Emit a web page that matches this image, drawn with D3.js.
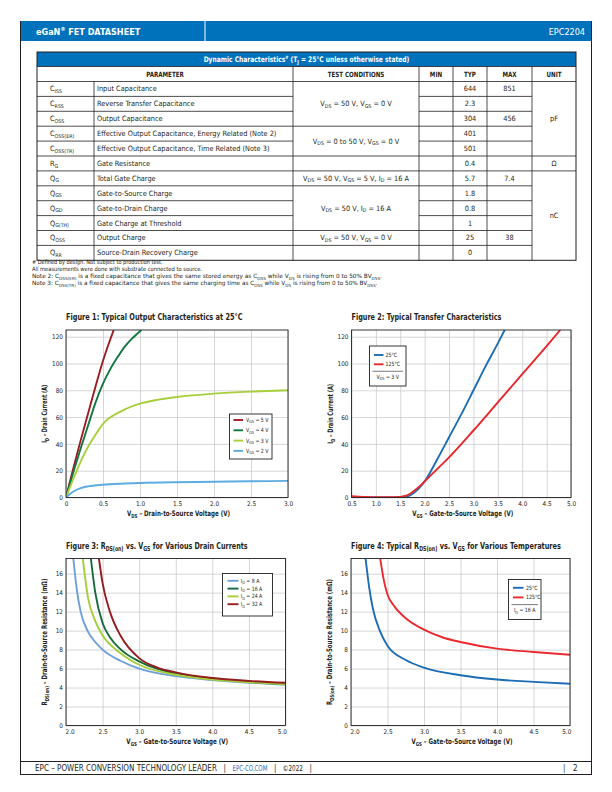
<!DOCTYPE html>
<html>
<head>
<meta charset="utf-8">
<script src="https://cdn.jsdelivr.net/npm/d3@7"></script>
<style>
  body { margin: 0; background: #fff; }
  svg { display: block; }
</style>
</head>
<body>
<svg id="page" width="612" height="792"></svg>
<script>
// ---- table data ----
const symbols = ["C_{ISS}", "C_{RSS}", "C_{OSS}", "C_{OSS(ER)}", "C_{OSS(TR)}", "R_{G}",
  "Q_{G}", "Q_{GS}", "Q_{GD}", "Q_{G(TH)}", "Q_{OSS}", "Q_{RR}"]
const params = ["Input Capacitance", "Reverse Transfer Capacitance", "Output Capacitance",
  "Effective Output Capacitance, Energy Related (Note 2)", "Effective Output Capacitance, Time Related (Note 3)",
  "Gate Resistance", "Total Gate Charge", "Gate-to-Source Charge", "Gate-to-Drain Charge",
  "Gate Charge at Threshold", "Output Charge", "Source-Drain Recovery Charge"]
const minVals = ["", "", "", "", "", "", "", "", "", "", "", ""]
const typVals = ["644", "2.3", "304", "401", "501", "0.4", "5.7", "1.8", "0.8", "1", "25", "0"]
const maxVals = ["851", "", "456", "", "", "", "7.4", "", "", "", "38", ""]
const conditions = [
  { from: 0, to: 2, text: "V_{DS} = 50 V, V_{GS} = 0 V" },
  { from: 3, to: 4, text: "V_{DS} = 0 to 50 V, V_{GS} = 0 V" },
  { from: 5, to: 5, text: "" },
  { from: 6, to: 6, text: "V_{DS} = 50 V, V_{GS} = 5 V, I_{D} = 16 A" },
  { from: 7, to: 9, text: "V_{DS} = 50 V, I_{D} = 16 A" },
  { from: 10, to: 10, text: "V_{DS} = 50 V, V_{GS} = 0 V" },
  { from: 11, to: 11, text: "" }
]
const units = [
  { from: 0, to: 4, text: "pF" },
  { from: 5, to: 5, text: "Ω" },
  { from: 6, to: 11, text: "nC" }
]
const headers = ["PARAMETER", "TEST CONDITIONS", "MIN", "TYP", "MAX", "UNIT"]
const notes = [
  "# Defined by design. Not subject to production test.",
  "All measurements were done with substrate connected to source.",
  "Note 2: C_{OSS(ER)} is a fixed capacitance that gives the same stored energy as C_{OSS} while V_{DS} is rising from 0 to 50% BV_{DSS}.",
  "Note 3: C_{OSS(TR)} is a fixed capacitance that gives the same charging time as C_{OSS} while V_{DS} is rising from 0 to 50% BV_{DSS}."
]
const footerParts = ["EPC – POWER CONVERSION TECHNOLOGY LEADER", "|", "EPC-CO.COM", "|", "©2022", "|"]

// ---- figure 1: output characteristics ----
const vds5 = [0, 0.1, 0.2, 0.3, 0.4, 0.5, 0.645]
const id5 = [0, 22, 43, 63, 83, 102, 125]
const vds4 = [0, 0.1, 0.2, 0.3, 0.4, 0.5, 0.6, 0.7, 0.8, 0.9, 1.02]
const id4 = [0, 19, 37, 54, 71, 85, 96, 105, 113, 119, 125]
const vds3 = [0, 0.1, 0.2, 0.3, 0.4, 0.5, 0.75, 1.0, 1.25, 1.5, 2.0, 2.5, 3.0]
const id3 = [0, 14, 27, 38, 47, 55, 64.5, 70, 73, 75, 77.5, 79, 80]
const vds2 = [0, 0.05, 0.1, 0.2, 0.3, 0.5, 0.75, 1.0, 1.5, 2.0, 2.5, 3.0]
const id2 = [0, 2.5, 4.5, 7, 8.3, 9.5, 10.3, 10.8, 11.4, 11.8, 12.1, 12.4]

// ---- figure 2: transfer characteristics ----
const vgsT25 = [0.5, 1.0, 1.5, 1.6, 1.7, 1.8, 1.9, 2.0, 2.25, 2.5, 2.75, 3.0, 3.25, 3.5, 3.64]
const idT25 = [0, 0, 0, 0.3, 1.5, 4, 7.5, 12, 28, 45, 62, 80, 98, 115, 125]
const vgsT125 = [0.5, 0.75, 1.0, 1.25, 1.5, 1.6, 1.7, 1.8, 1.9, 2.0, 2.25, 2.5, 3.0, 3.5, 4.0, 4.5, 4.78]
const idT125 = [1, 0.5, 0.2, 0.2, 0.5, 1.2, 2.8, 5.5, 8.5, 12, 21, 30, 50, 71, 92, 113, 125]

// ---- figure 3: RDS(on) vs VGS, drain currents ----
const vgs8 = [2.1, 2.15, 2.2, 2.3, 2.4, 2.5, 2.75, 3.0, 3.5, 4.0, 4.5, 5.0]
const r8 = [17.6, 14.2, 12.0, 9.9, 8.8, 8.0, 6.8, 6.0, 5.2, 4.8, 4.5, 4.3]
const vgs16 = [2.34, 2.4, 2.5, 2.6, 2.75, 3.0, 3.5, 4.0, 4.5, 5.0]
const r16 = [17.6, 14.0, 10.8, 9.3, 8.0, 6.75, 5.45, 4.95, 4.6, 4.4]
const vgs24 = [2.23, 2.3, 2.4, 2.5, 2.75, 3.0, 3.5, 4.0, 4.5, 5.0]
const r24 = [17.6, 13.5, 11.0, 9.5, 7.6, 6.4, 5.35, 4.85, 4.55, 4.35]
const vgs32 = [2.45, 2.5, 2.6, 2.75, 3.0, 3.25, 3.5, 4.0, 4.5, 5.0]
const r32 = [17.6, 15.0, 12.0, 9.4, 7.1, 6.1, 5.6, 5.0, 4.7, 4.5]

// ---- figure 4: RDS(on) vs VGS, temperatures ----
const vgsR25 = [2.2, 2.25, 2.3, 2.4, 2.5, 2.75, 3.0, 3.5, 4.0, 4.5, 5.0]
const rR25 = [17.6, 14.5, 12.3, 9.9, 8.4, 6.9, 6.1, 5.3, 4.85, 4.6, 4.4]
const vgsR125 = [2.4, 2.45, 2.5, 2.6, 2.75, 3.0, 3.25, 3.5, 4.0, 4.5, 5.0]
const rR125 = [17.6, 15.3, 13.8, 12.5, 11.3, 10.1, 9.3, 8.8, 8.1, 7.75, 7.45]

// ---- tick values ----
const ticksVds = [0, 0.5, 1.0, 1.5, 2.0, 2.5, 3.0]
const ticksVgsT = [0.5, 1.0, 1.5, 2.0, 2.5, 3.0, 3.5, 4.0, 4.5, 5.0]
const ticksVgsR = [2.0, 2.5, 3.0, 3.5, 4.0, 4.5, 5.0]
const ticksId = [0, 20, 40, 60, 80, 100, 120]
const ticksR = [0, 2, 4, 6, 8, 10, 12, 14, 16]

const FONT = "'Liberation Sans Narrow', 'DejaVu Sans Condensed', sans-serif"
const BLUE = "#0072bc"
const INK = "#231f20"
const svg = d3.select("#page").attr("font-family", FONT)

// Write text with _{sub} and ^{sup} parts as tspans
function rich(t, str, fs) {
  const parts = str.split(/(_\{[^}]*\}|\^\{[^}]*\})/).filter(s => s !== "")
  let off = 0
  parts.forEach(p => {
    let target = 0, txt = p, size = null
    if (p.startsWith("_{")) { target = 0.22 * fs; txt = p.slice(2, -1); size = fs * 0.72 }
    else if (p.startsWith("^{")) { target = -0.38 * fs; txt = p.slice(2, -1); size = fs * 0.62 }
    const ts = t.append("tspan").attr("dy", target - off).text(txt)
    if (size) ts.attr("font-size", size)
    off = target
  })
  return t
}

// opts: fill, bold, anchor, rotate, sx (horizontal squeeze), fit (target width)
function label(parent, x, y, str, fs, opts = {}) {
  const t = parent.append("text")
    .attr("x", x).attr("y", y)
    .attr("font-size", fs)
    .attr("fill", opts.fill || INK)
    .attr("font-weight", opts.bold ? "bold" : null)
    .attr("text-anchor", opts.anchor || "start")
  rich(t, str, fs)
  let sx = opts.sx || 1
  if (opts.fit && str) {
    const w = t.node().getComputedTextLength()
    if (w > 0) sx = opts.fit / w
  }
  const rot = opts.rotate ? " rotate(-90)" : ""
  if (sx !== 1 || opts.rotate) {
    t.attr("transform", `translate(${x},${y})${rot} scale(${sx},1) translate(${-x},${-y})`)
  }
  return t
}

// ---- page frame & header ----
svg.append("rect").attr("x", 20).attr("y", 21).attr("width", 572).attr("height", 20).attr("fill", BLUE)
svg.append("line").attr("x1", 205).attr("x2", 205).attr("y1", 21).attr("y2", 41)
  .attr("stroke", "#fff").attr("stroke-width", 1)
label(svg, 36, 34.5, "eGaN^{®} FET DATASHEET", 9, { bold: true, fill: "#fff" })
label(svg, 585, 34.5, "EPC2204", 9, { fill: "#fff", anchor: "end" })

const frame = svg.append("g").attr("stroke", INK).attr("stroke-width", 1)
frame.append("line").attr("x1", 20.5).attr("x2", 20.5).attr("y1", 21).attr("y2", 775)
frame.append("line").attr("x1", 591.5).attr("x2", 591.5).attr("y1", 21).attr("y2", 775)
frame.append("line").attr("x1", 20).attr("x2", 592).attr("y1", 761.5).attr("y2", 761.5)
frame.append("line").attr("x1", 20).attr("x2", 592).attr("y1", 774.5).attr("y2", 774.5)

// ---- footer: parts laid out one after another ----
const foot = svg.append("g")
const footFit = [182, 0, 35, 0, 20, 0]
let fx = 35
footerParts.forEach((p, i) => {
  const t = label(foot, fx, 771, p, 8, { fill: i === 2 ? "#2e6db4" : INK, fit: footFit[i] || null })
  fx += (footFit[i] || t.node().getComputedTextLength()) + 6.5
})
label(foot, 563, 771, "|", 8)
label(foot, 573, 771, "2", 8)

// ---- dynamic characteristics table ----
const colX = [37, 94, 293, 419, 453, 487, 532, 576]
const tTop = 52, titleH = 14.5, headH = 15, rowH = 14.9
const headY = tTop + titleH
const rowsY = headY + headH
const rowY = d3.scaleLinear().domain([0, symbols.length]).range([rowsY, rowsY + rowH * symbols.length])
const tBottom = rowY(symbols.length)
const tbl = svg.append("g")

tbl.append("rect").attr("x", colX[0]).attr("y", tTop).attr("width", colX[7] - colX[0]).attr("height", titleH).attr("fill", BLUE)
label(tbl, (colX[0] + colX[7]) / 2, tTop + 10, "Dynamic Characteristics^{#} (T_{J} = 25°C unless otherwise stated)", 7.6,
  { bold: true, fill: "#fff", anchor: "middle", fit: 206 })

const tl = tbl.append("g").attr("stroke", INK).attr("stroke-width", 0.8)
tl.append("rect").attr("x", colX[0]).attr("y", tTop).attr("width", colX[7] - colX[0]).attr("height", tBottom - tTop)
  .attr("fill", "none").attr("stroke-width", 1)
tl.append("line").attr("x1", colX[0]).attr("x2", colX[7]).attr("y1", headY).attr("y2", headY)
tl.append("line").attr("x1", colX[0]).attr("x2", colX[7]).attr("y1", rowsY).attr("y2", rowsY)
colX.slice(1, 7).forEach((cx, i) => {
  tl.append("line").attr("x1", cx).attr("x2", cx).attr("y1", i === 0 ? rowsY : headY).attr("y2", tBottom)
})
const condBreaks = new Set(conditions.map(c => c.from))
const unitBreaks = new Set(units.map(c => c.from))
d3.range(1, symbols.length).forEach(i => {
  const yy = rowY(i)
  tl.append("line").attr("x1", colX[0]).attr("x2", colX[2]).attr("y1", yy).attr("y2", yy)
  tl.append("line").attr("x1", colX[3]).attr("x2", colX[6]).attr("y1", yy).attr("y2", yy)
  if (condBreaks.has(i)) tl.append("line").attr("x1", colX[2]).attr("x2", colX[3]).attr("y1", yy).attr("y2", yy)
  if (unitBreaks.has(i)) tl.append("line").attr("x1", colX[6]).attr("x2", colX[7]).attr("y1", yy).attr("y2", yy)
})

const headCenters = [(colX[0] + colX[2]) / 2, (colX[2] + colX[3]) / 2, (colX[3] + colX[4]) / 2,
  (colX[4] + colX[5]) / 2, (colX[5] + colX[6]) / 2, (colX[6] + colX[7]) / 2]
headers.forEach((h, i) => label(tbl, headCenters[i], headY + 10.3, h, 7.2, { bold: true, anchor: "middle", sx: 0.86 }))

const FS = 7.3
const midY = i => (rowY(i) + rowY(i + 1)) / 2 + 2.5
symbols.forEach((s, i) => {
  label(tbl, 50, midY(i), s, FS)
  label(tbl, 97, midY(i), params[i], FS)
  label(tbl, headCenters[2], midY(i), minVals[i], FS, { anchor: "middle" })
  label(tbl, headCenters[3], midY(i), typVals[i], FS, { anchor: "middle" })
  label(tbl, headCenters[4], midY(i), maxVals[i], FS, { anchor: "middle" })
})
conditions.forEach(c => {
  const yy = (rowY(c.from) + rowY(c.to + 1)) / 2 + 2.5
  label(tbl, headCenters[1], yy, c.text, FS, { anchor: "middle" })
})
units.forEach(c => {
  const yy = (rowY(c.from) + rowY(c.to + 1)) / 2 + 2.5
  label(tbl, headCenters[5], yy, c.text, FS, { anchor: "middle" })
})

const noteFit = [131, 170, 350, 346]
notes.forEach((n, i) => label(svg, 32, 264.5 + i * 7, n, 5.8, { fit: noteFit[i] }))

// ---- chart drawing ----
let clipId = 0
function drawChart(cfg) {
  const g = svg.append("g")
  const x = d3.scaleLinear().domain(cfg.xDomain).range([cfg.left, cfg.right])
  const y = d3.scaleLinear().domain(cfg.yDomain).range([cfg.bottom, cfg.top])
  const h = cfg.bottom - cfg.top, w = cfg.right - cfg.left
  const fmt = d => (d === 0 ? "0" : d3.format(".1f")(d))

  const xa = g.append("g").attr("transform", `translate(0,${cfg.bottom})`)
    .call(d3.axisBottom(x).tickValues(cfg.xTicks).tickSize(-h).tickPadding(2.5).tickFormat(fmt))
  const ya = g.append("g").attr("transform", `translate(${cfg.left},0)`)
    .call(d3.axisLeft(y).tickValues(cfg.yTicks).tickSize(-w).tickPadding(3).tickFormat(d3.format("d")))
  ;[xa, ya].forEach(a => {
    a.select(".domain").remove()
    a.selectAll(".tick line").attr("stroke", "#c4c4c4").attr("stroke-width", 0.7)
    a.selectAll(".tick text").attr("font-family", FONT).attr("font-size", 6.4).attr("fill", INK)
  })
  ya.selectAll(".tick text").attr("dy", "0.33em")
  xa.selectAll(".tick text").attr("dy", "0.95em")
  // end labels sit inside the plot edges on some figures
  const xt = xa.selectAll(".tick text").nodes()
  if (cfg.edgeLabels) {
    d3.select(xt[0]).attr("text-anchor", "start").attr("x", -1)
    d3.select(xt[xt.length - 1]).attr("text-anchor", "end").attr("x", 1)
  }

  const cid = "clip" + (clipId++)
  g.append("clipPath").attr("id", cid).append("rect")
    .attr("x", cfg.left).attr("y", cfg.top).attr("width", w).attr("height", h)
  const line = d3.line().x(d => x(d[0])).y(d => y(d[1])).curve(d3.curveMonotoneX)
  const lines = g.append("g").attr("clip-path", `url(#${cid})`)
  cfg.series.forEach(s => {
    lines.append("path").datum(d3.zip(s.x, s.y))
      .attr("d", line).attr("fill", "none").attr("stroke", s.color)
      .attr("stroke-width", 1.9).attr("stroke-linejoin", "round")
  })

  g.append("rect").attr("x", cfg.left).attr("y", cfg.top).attr("width", w).attr("height", h)
    .attr("fill", "none").attr("stroke", INK).attr("stroke-width", 0.9)

  // titles
  label(g, cfg.left, cfg.top - 9.5, cfg.title, 9.6, { bold: true, fit: cfg.titleW })
  label(g, (cfg.left + cfg.right) / 2 + 1.5, cfg.bottom + 18.5, cfg.xTitle, 7.6, { bold: true, anchor: "middle", fit: cfg.xTitleW })
  label(g, cfg.left - 18.5, (cfg.top + cfg.bottom) / 2, cfg.yTitle, 7.6, { bold: true, anchor: "middle", rotate: true, fit: cfg.yTitleW })

  // legend
  const L = cfg.legend
  const lg = g.append("g")
  lg.append("rect").attr("x", L.x).attr("y", L.y).attr("width", L.w).attr("height", L.h)
    .attr("fill", "#fff").attr("stroke", INK).attr("stroke-width", 0.9)
  cfg.series.forEach((s, i) => {
    const yy = L.y + L.first + i * L.step
    lg.append("line").attr("x1", L.x + L.sw0).attr("x2", L.x + L.sw1).attr("y1", yy).attr("y2", yy)
      .attr("stroke", s.color).attr("stroke-width", 1.9)
    label(lg, L.x + L.tx, yy + 2.1, s.label, 5.8, { sx: 0.9 })
  })
  if (L.note) {
    const ly = L.y + L.first + cfg.series.length * L.step - L.step * 0.25
    lg.append("line").attr("x1", L.x + 3).attr("x2", L.x + L.w - 3).attr("y1", ly).attr("y2", ly)
      .attr("stroke", INK).attr("stroke-width", 0.6)
    label(lg, L.x + L.w / 2, ly + 7.8, L.note, 5.8, { anchor: "middle", sx: 0.9 })
  }
}

drawChart({
  left: 66, right: 288, top: 330, bottom: 497.5,
  xDomain: [0, 3], yDomain: [0, 125], xTicks: ticksVds, yTicks: ticksId,
  title: "Figure 1: Typical Output Characteristics at 25°C", titleW: 177,
  xTitle: "V_{DS} – Drain-to-Source Voltage (V)", xTitleW: 103,
  yTitle: "I_{D} – Drain Current (A)", yTitleW: 58,
  series: [
    { label: "V_{GS} = 5 V", color: "#9d1c23", x: vds5, y: id5 },
    { label: "V_{GS} = 4 V", color: "#11763f", x: vds4, y: id4 },
    { label: "V_{GS} = 3 V", color: "#a8cf3b", x: vds3, y: id3 },
    { label: "V_{GS} = 2 V", color: "#5cabe1", x: vds2, y: id2 }
  ],
  legend: { x: 229.5, y: 414, w: 42.5, h: 45, first: 6, step: 10.3, sw0: 4, sw1: 13.5, tx: 16.5 }
})

drawChart({
  left: 351.5, right: 571, top: 330, bottom: 497.5,
  xDomain: [0.5, 5], yDomain: [0, 125], xTicks: ticksVgsT, yTicks: ticksId,
  title: "Figure 2: Typical Transfer Characteristics", titleW: 150,
  xTitle: "V_{GS} – Gate-to-Source Voltage (V)", xTitleW: 101,
  yTitle: "I_{D} – Drain Current (A)", yTitleW: 60,
  series: [
    { label: "25°C", color: "#1c6db4", x: vgsT25, y: idT25 },
    { label: "125°C", color: "#e8262c", x: vgsT125, y: idT125 }
  ],
  legend: { x: 369.5, y: 346, w: 36.5, h: 40, first: 9, step: 9.3, sw0: 4.5, sw1: 14, tx: 16, note: "V_{DS} = 3 V" }
})

drawChart({
  left: 66, right: 285.5, top: 558.5, bottom: 725.5, edgeLabels: true,
  xDomain: [2, 5], yDomain: [0, 17.6], xTicks: ticksVgsR, yTicks: ticksR,
  title: "Figure 3: R_{DS(on)} vs. V_{GS} for Various Drain Currents", titleW: 182,
  xTitle: "V_{GS} – Gate-to-Source Voltage (V)", xTitleW: 102,
  yTitle: "R_{DS(on)} – Drain-to-Source Resistance (mΩ)", yTitleW: 127,
  series: [
    { label: "I_{D} = 8 A", color: "#6d9fd9", x: vgs8, y: r8 },
    { label: "I_{D} = 16 A", color: "#166a3b", x: vgs16, y: r16 },
    { label: "I_{D} = 24 A", color: "#a7cd3a", x: vgs24, y: r24 },
    { label: "I_{D} = 32 A", color: "#951c21", x: vgs32, y: r32 }
  ],
  legend: { x: 222.5, y: 573.5, w: 50, h: 42.5, first: 7.3, step: 7.8, sw0: 5, sw1: 16, tx: 18.3 }
})

drawChart({
  left: 351, right: 570, top: 558.5, bottom: 725.5, edgeLabels: true,
  xDomain: [2, 5], yDomain: [0, 17.6], xTicks: ticksVgsR, yTicks: ticksR,
  title: "Figure 4: Typical R_{DS(on)} vs. V_{GS} for Various Temperatures", titleW: 210,
  xTitle: "V_{GS} – Gate-to-Source Voltage (V)", xTitleW: 101,
  yTitle: "R_{DS(on)} – Drain-to-Source Resistance (mΩ)", yTitleW: 126,
  series: [
    { label: "25°C", color: "#1c6db4", x: vgsR25, y: rR25 },
    { label: "125°C", color: "#ea2a30", x: vgsR125, y: rR125 }
  ],
  legend: { x: 508.5, y: 579.5, w: 32.5, h: 40, first: 8.3, step: 9.6, sw0: 4.5, sw1: 15, tx: 17.5, note: "I_{D} = 16 A" }
})
</script>
</body>
</html>
